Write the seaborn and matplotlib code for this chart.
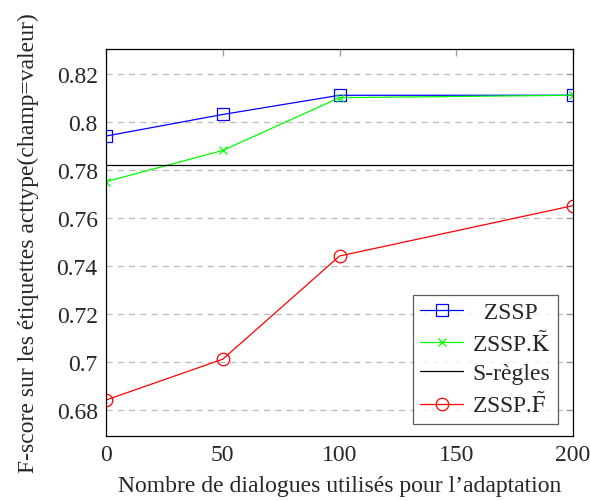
import matplotlib
matplotlib.use("Agg")
import matplotlib.pyplot as plt
import seaborn as sns
import pandas as pd

# Data
dialogues = [0, 50, 100, 200]
zssp = [0.794, 0.803, 0.811, 0.811]
zssp_k = [0.775, 0.788, 0.810, 0.811]
s_regles = 0.782
zssp_f = [0.684, 0.701, 0.744, 0.765]

x_ticks = [0, 50, 100, 150, 200]
y_ticks = [0.68, 0.70, 0.72, 0.74, 0.76, 0.78, 0.80, 0.82]
y_tick_labels = ["0.68", "0.7", "0.72", "0.74", "0.76", "0.78", "0.8", "0.82"]

sns.set_style("white")
plt.rcParams['font.family'] = ['Liberation Serif', 'DejaVu Serif']
plt.rcParams['mathtext.fontset'] = 'stix'

fig = plt.figure(figsize=(5.9, 5.02), dpi=100)
ax = fig.add_axes([0.1797, 0.1295, 0.7915, 0.771])

# horizontal grid, dashed
for y in y_ticks:
    ax.axhline(y, color="#bbbbbb", lw=0.9, ls=(0, (5, 4)), zorder=0)

# leading spaces on "ZSSP" roughly centre it like the pgfplots legend
sns.lineplot(x=dialogues, y=zssp, ax=ax, color="blue", lw=0.9,
             marker="s", markersize=9, markerfacecolor="none",
             markeredgecolor="blue", markeredgewidth=0.9, label="  ZSSP")
sns.lineplot(x=dialogues, y=zssp_k, ax=ax, color="lime", lw=0.9,
             marker="x", markersize=6, markeredgecolor="lime",
             markeredgewidth=0.9, label=r"ZSSP.$\mathrm{\tilde{K}}$")
ax.axhline(s_regles, color="black", lw=0.9, label="S-règles")
sns.lineplot(x=dialogues, y=zssp_f, ax=ax, color="red", lw=0.9,
             marker="o", markersize=9, markerfacecolor="none",
             markeredgecolor="red", markeredgewidth=0.9, label=r"ZSSP.$\mathrm{\tilde{F}}$")

ax.set_xlim(0, 200)
ax.set_ylim(0.669, 0.8303)
ax.set_xticks(x_ticks)
ax.set_yticks(y_ticks)
ax.set_yticklabels(y_tick_labels)
ax.tick_params(direction="in", length=5, width=0.9, color="#999999",
               top=True, right=True, labelsize=17, pad=6)
for s in ax.spines.values():
    s.set_color("black")
    s.set_linewidth(0.9)

ax.set_xlabel("Nombre de dialogues utilisés pour l’adaptation", fontsize=17, labelpad=7)
ax.set_ylabel("F-score sur les étiquettes acttype(champ=valeur)", fontsize=17, labelpad=13)

leg = ax.legend(loc="lower right", bbox_to_anchor=(0.968, 0.031), fontsize=17,
                frameon=True, fancybox=False, edgecolor="#333333",
                borderaxespad=0, handlelength=1.8, labelspacing=0.3,
                borderpad=0.3, handletextpad=0.4)
leg.get_frame().set_linewidth(0.9)

fig.savefig("out.png", dpi=100)
